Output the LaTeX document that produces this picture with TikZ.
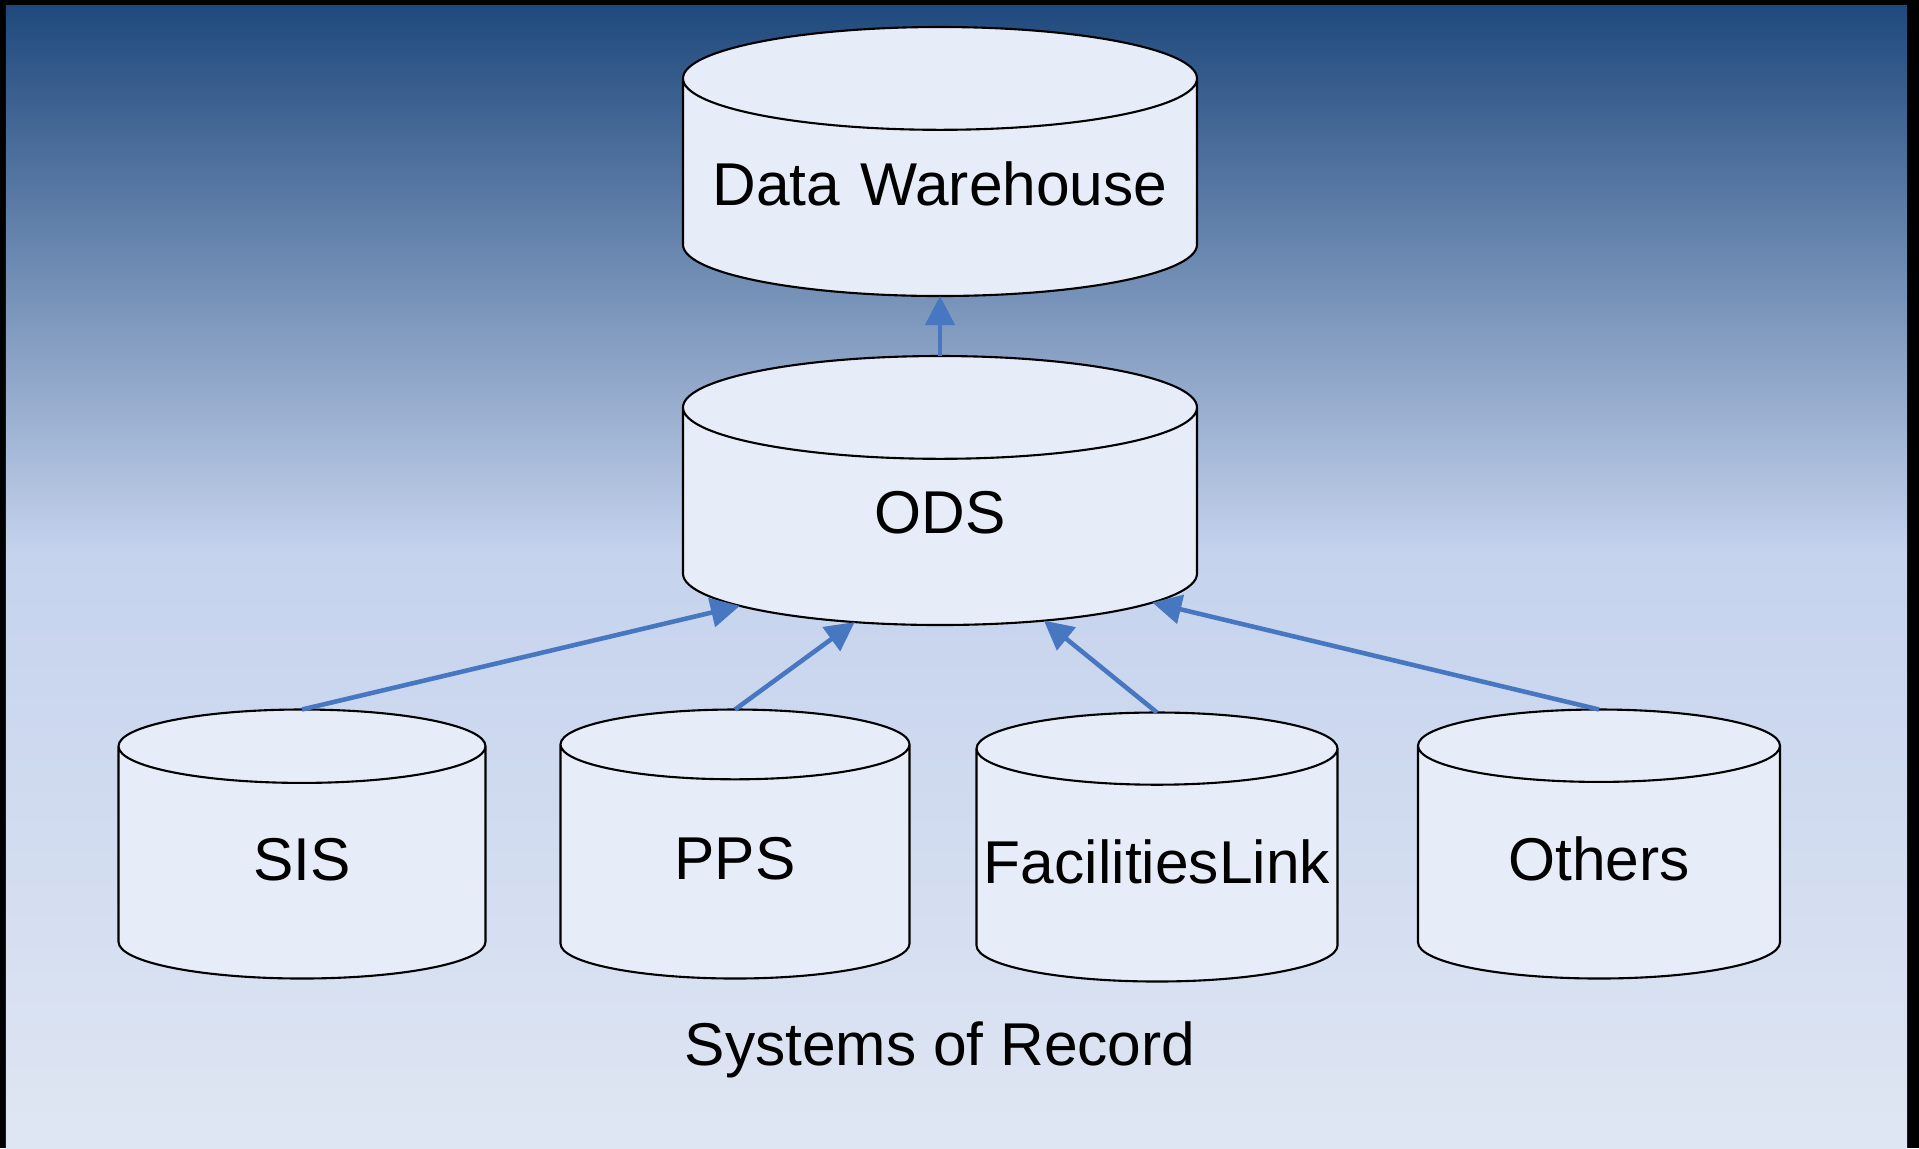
\documentclass[tikz,border=0pt]{standalone}
\usepackage{fontspec}
\setmainfont{Liberation Sans}
\usetikzlibrary{shapes.geometric, arrows.meta}

\definecolor{dwnavy}{rgb}{0.122, 0.286, 0.490}
\definecolor{dwsky}{rgb}{0.773, 0.827, 0.929}
\definecolor{dwmist}{rgb}{0.875, 0.902, 0.953}
\definecolor{dwfill}{rgb}{0.906, 0.929, 0.973}
\definecolor{dwarrow}{rgb}{0.278, 0.467, 0.757}
\pgfdeclareverticalshading{dwback}{100bp}{color(0bp)=(dwmist); color(25bp)=(dwmist); color(51bp)=(dwsky); color(75bp)=(dwnavy); color(100bp)=(dwnavy)}
\tikzset{db/.style={draw, cylinder, shape border rotate=90, aspect=0.2, fill=dwfill, line width=0.6pt, inner sep=0pt, outer sep=0pt, minimum height=2.69cm, text width=#1, minimum width=#1, text depth=0.08cm, align=center, anchor=shape center, font=\fontsize{17.2}{20}\selectfont}}
\tikzset{feed/.style={line width=1.3pt, color=dwarrow, -{Triangle[length=0.29cm, width=0.29cm]}}}

\begin{document}
\begin{tikzpicture}
    \fill[black] (0, 0) rectangle (19.19, -11.48);
    \shade[shading=dwback] (0.06, -0.05) rectangle (19.07, -11.48);
    \useasboundingbox (0, 0) rectangle (19.19, -11.48);

    \node[db=5.14cm] (Nw) at (9.40, -1.615) {Data Warehouse};
    \node[db=5.14cm] (No) at (9.40, -4.905) {ODS};

    \node[db=3.67cm] (N1) at (3.02, -8.44) {SIS};
    \node[db=3.49cm] (N2) at (7.35, -8.44) {PPS};
    \node[db=3.61cm] (N3) at (11.57, -8.47) {FacilitiesLink};
    \node[db=3.62cm] (N4) at (15.99, -8.44) {Others};

    \node[font=\fontsize{17.2}{20}\selectfont] (Nr) at (9.40, -10.50) {Systems of Record};

    \draw [feed] (No.top) -- (Nw.bottom);
    \draw [feed] (N1.top) -- (No.204.7);
    \draw [feed] (N2.top) -- (No.231.4);
    \draw [feed] (N3.top) -- (No.315.3);
    \draw [feed] (N4.top) -- (No.338.1);
\end{tikzpicture}
\end{document}
